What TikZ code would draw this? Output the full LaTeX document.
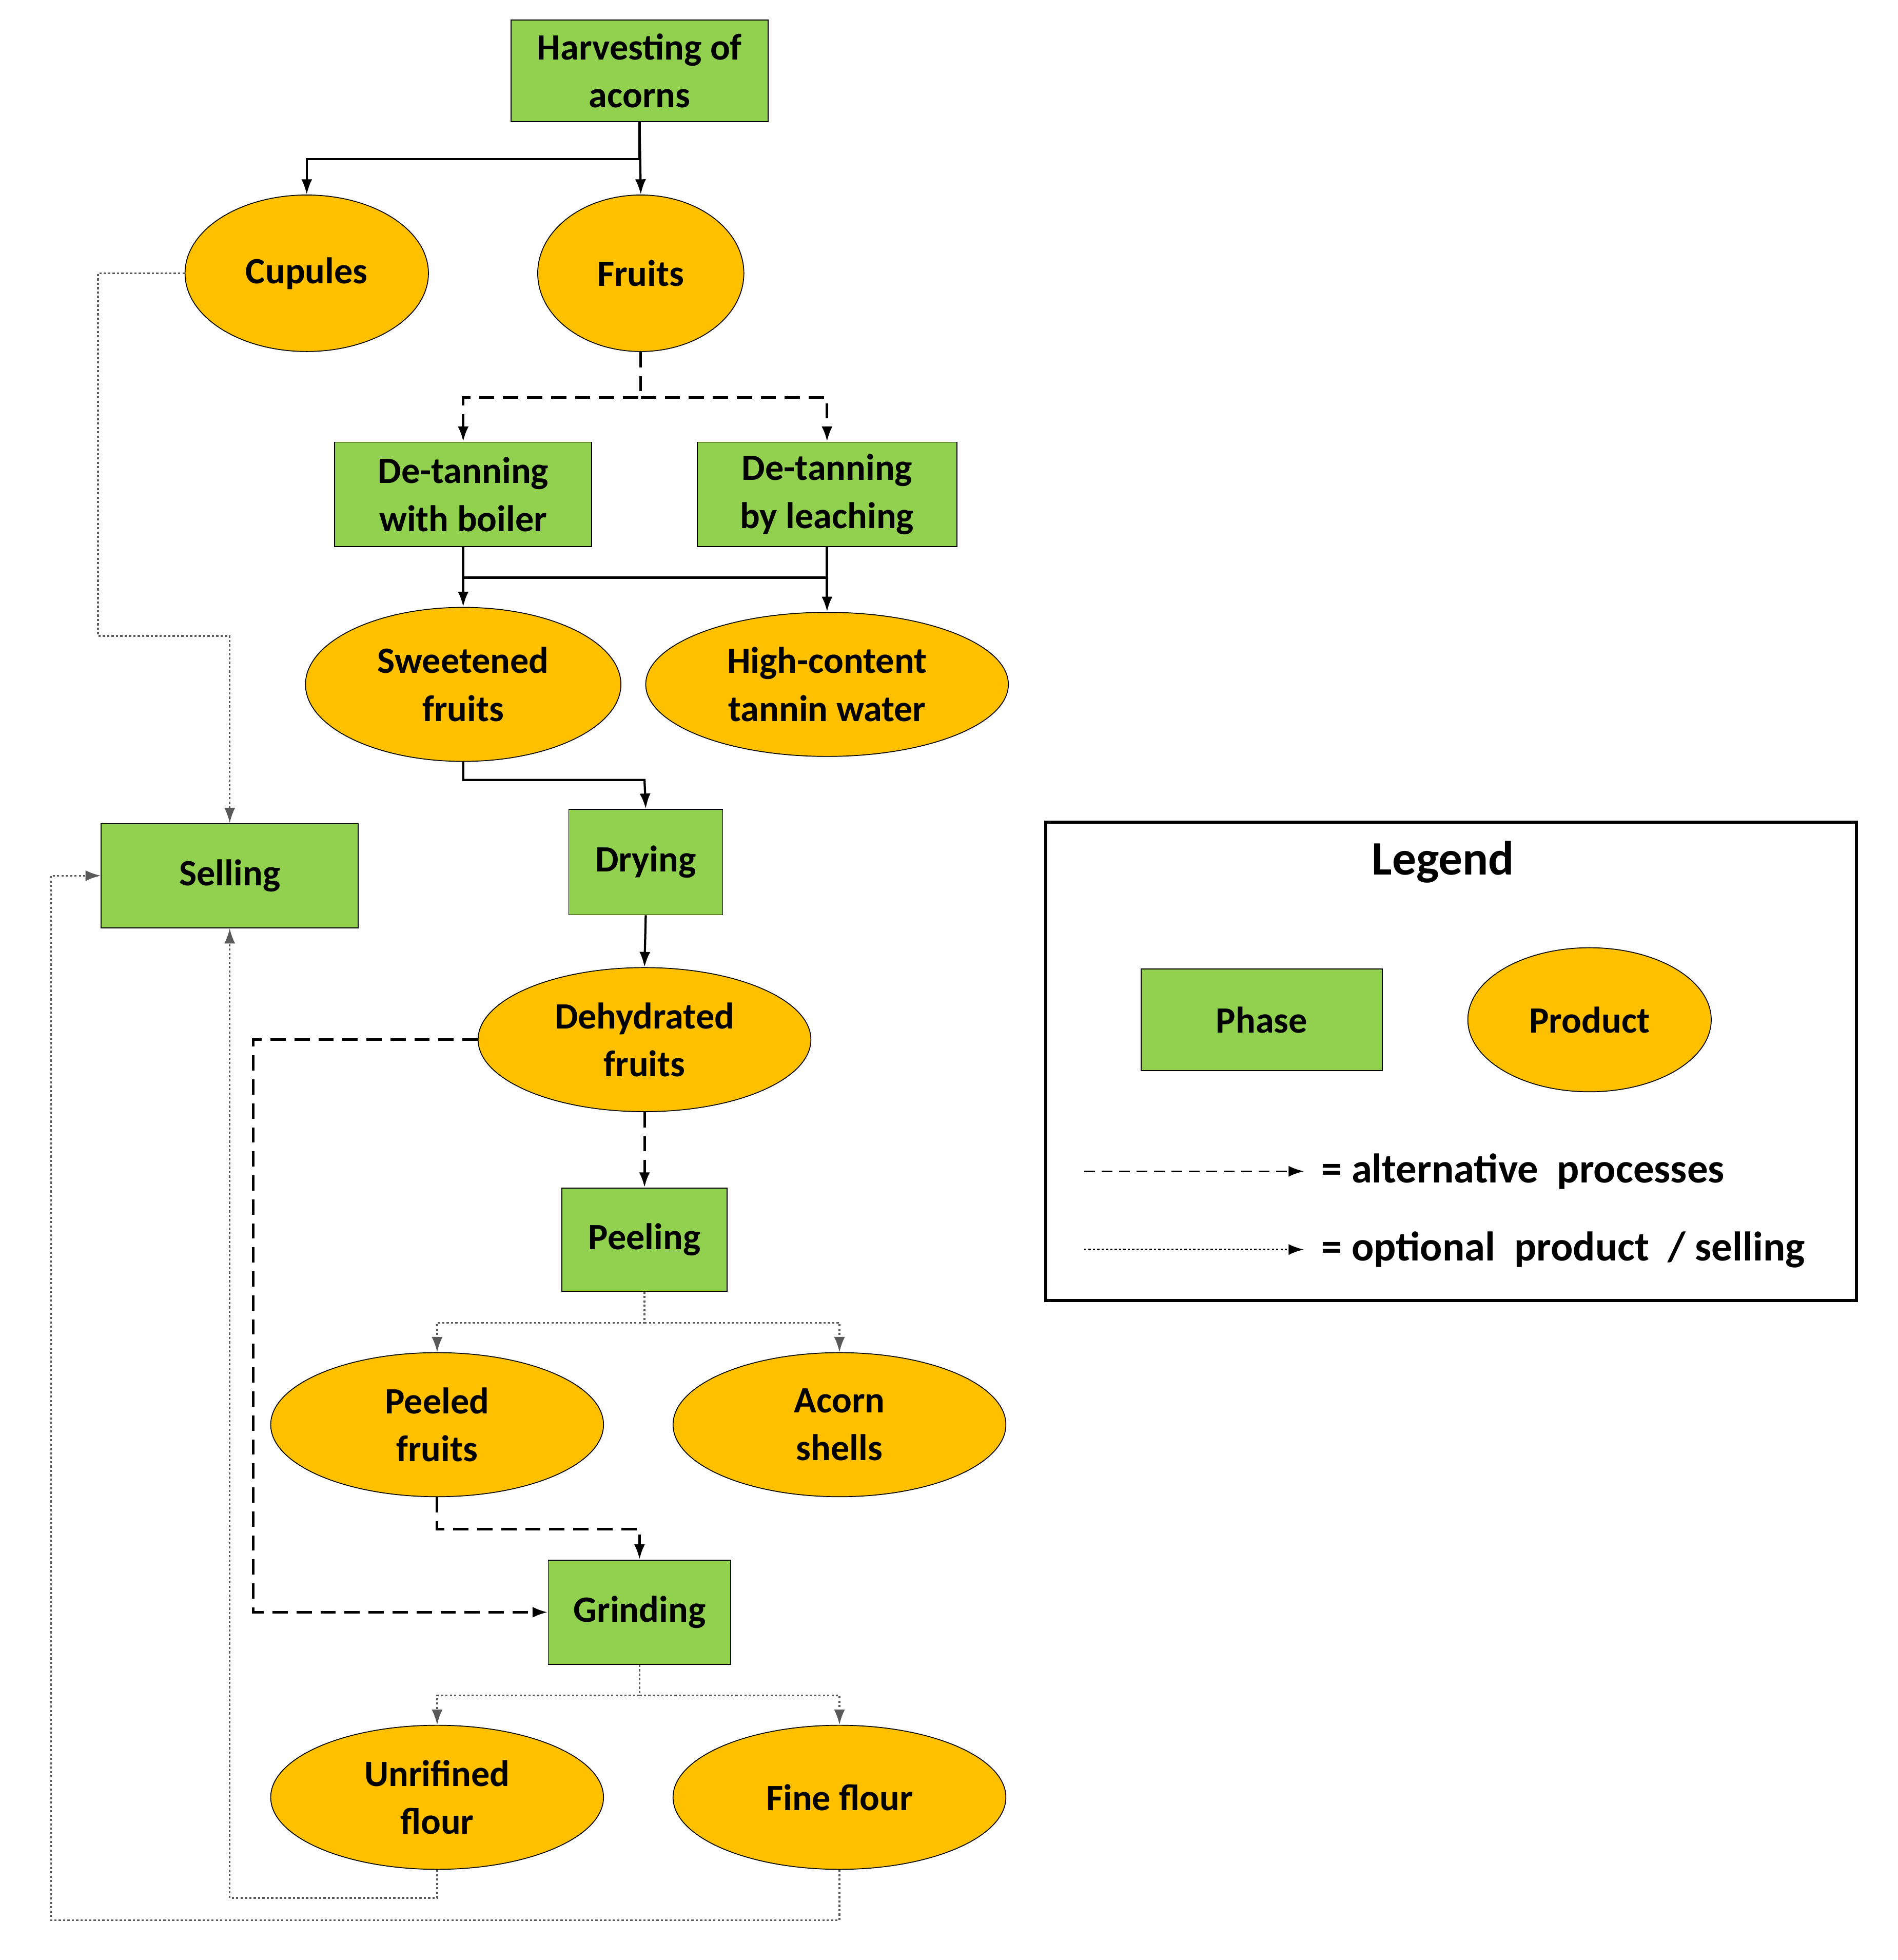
\documentclass[tikz,border=0pt]{standalone}
\usepackage{fontspec}
\setmainfont{Carlito}
\usetikzlibrary{shapes.geometric,arrows.meta}
\definecolor{phasegreen}{RGB}{146,208,80}
\definecolor{prodorange}{RGB}{255,192,0}
\begin{document}
\begin{tikzpicture}[x=0.02cm,y=-0.02cm,
  txt/.style={font=\fontsize{17}{22}\selectfont\bfseries,align=center},
  phase/.style={txt,draw=black,fill=phasegreen,rectangle,inner sep=0pt},
  prod/.style={txt,draw=black,fill=prodorange,ellipse,inner sep=0pt},
  arr/.style={-{Latex[length=7pt,width=5pt]}},
  solid line/.style={arr,line width=1.2pt},
  dash line/.style={arr,line width=1.2pt,dash pattern=on 7pt off 4pt},
  dot line/.style={arr,line width=0.8pt,gray!70!black,dash pattern=on 1pt off 1pt}]
\useasboundingbox (0,0) rectangle (1528,1578);
% phases
\node[phase,minimum width=207*0.02cm,minimum height=82*0.02cm] (harv) at (515,57) {Harvesting of\\acorns};
\node[phase,minimum width=207*0.02cm,minimum height=84*0.02cm] (boil) at (373,398) {De-tanning\\with boiler};
\node[phase,minimum width=209*0.02cm,minimum height=84*0.02cm] (leach) at (666,398) {De-tanning\\by leaching};
\node[phase,minimum width=124*0.02cm,minimum height=85*0.02cm] (dry) at (520,694) {Drying};
\node[phase,minimum width=133*0.02cm,minimum height=83*0.02cm] (peel) at (519,998) {Peeling};
\node[phase,minimum width=147*0.02cm,minimum height=84*0.02cm] (grind) at (515,1298) {Grinding};
\node[phase,minimum width=207*0.02cm,minimum height=84*0.02cm] (sell) at (185,705) {Selling};
% products
\node[prod,minimum width=196*0.02cm,minimum height=126*0.02cm] (cup) at (247,220) {Cupules};
\node[prod,minimum width=166*0.02cm,minimum height=126*0.02cm] (fruit) at (516,220) {Fruits};
\node[prod,minimum width=254*0.02cm,minimum height=124*0.02cm] (sweet) at (373,551) {Sweetened\\fruits};
\node[prod,minimum width=292*0.02cm,minimum height=116*0.02cm] (tann) at (666,551) {High-content\\tannin water};
\node[prod,minimum width=268*0.02cm,minimum height=116*0.02cm] (dehy) at (519,837) {Dehydrated\\fruits};
\node[prod,minimum width=268*0.02cm,minimum height=116*0.02cm] (peeled) at (352,1147) {Peeled\\fruits};
\node[prod,minimum width=268*0.02cm,minimum height=116*0.02cm] (shell) at (676,1147) {Acorn\\shells};
\node[prod,minimum width=268*0.02cm,minimum height=116*0.02cm] (unref) at (352,1447) {Unrifined\\flour};
\node[prod,minimum width=268*0.02cm,minimum height=116*0.02cm] (fine) at (676,1447) {Fine flour};
% coordinates
\coordinate (s1) at (515,128);
\coordinate (s2) at (516,320);
\coordinate (s3) at (373,465);
\coordinate (s4) at (519,1065);
\coordinate (s5) at (515,1365);
% connectors
\draw[solid line,line width=1pt] (harv.south) -- (s1) -| (cup.north);
\draw[solid line,line width=1pt] (harv.south) -- (fruit.north);
\draw[dash line] (fruit.south) -- (s2) -| (boil.north);
\draw[dash line] (s2) -| (leach.north);
\draw[solid line] (boil.south) -- (sweet.north);
\draw[solid line] (leach.south) -- (tann.north);
\draw[line width=1.2pt] (s3) -- (666,465);
\draw[solid line,line width=1pt] (sweet.south) |- (519,628) -- (dry.north);
\draw[solid line,line width=1pt] (dry.south) -- (dehy.north);
\draw[dash line] (dehy.south) -- (peel.north);
\draw[dot line] (peel.south) |- (s4) -| (peeled.north);
\draw[dot line] (s4) -| (shell.north);
\draw[dash line] (peeled.south) |- (515,1231) -- (grind.north);
\draw[dash line] (dehy.west) -- (204,837) |- (grind.west);
\draw[dot line] (grind.south) |- (s5) -| (unref.north);
\draw[dot line] (s5) -| (fine.north);
\draw[dot line] (cup.west) -- (79,220) |- (185,512) -- (sell.north);
\draw[dot line] (unref.south) |- (185,1528) -- (sell.south);
\draw[dot line] (fine.south) |- (41,1546) |- (sell.west);
% legend
\node[draw=black,line width=1.5pt,minimum width=653*0.02cm,minimum height=385*0.02cm] (legbox) at (1168.5,854.5) {};
\node[font=\fontsize{22}{26}\selectfont\bfseries] (legt) at (1162,694) {Legend};
\node[phase,minimum width=194*0.02cm,minimum height=82*0.02cm] (lphase) at (1016,821) {Phase};
\node[prod,minimum width=196*0.02cm,minimum height=116*0.02cm] (lprod) at (1280,821) {Product};
\coordinate (la1) at (873,943);
\coordinate (la2) at (1050,943);
\draw[dash line,line width=0.8pt,dash pattern=on 5pt off 3pt] (la1) -- (la2);
\node[txt,anchor=west,font=\fontsize{19}{22}\selectfont\bfseries] (lt1) at (1058,943) {= alternative\ \ processes};
\coordinate (lb1) at (873,1006);
\coordinate (lb2) at (1050,1006);
\draw[dot line,black] (lb1) -- (lb2);
\node[txt,anchor=west,font=\fontsize{19}{22}\selectfont\bfseries] (lt2) at (1058,1006) {= optional\ \ product\ \ /\ selling};
\end{tikzpicture}
\end{document}
